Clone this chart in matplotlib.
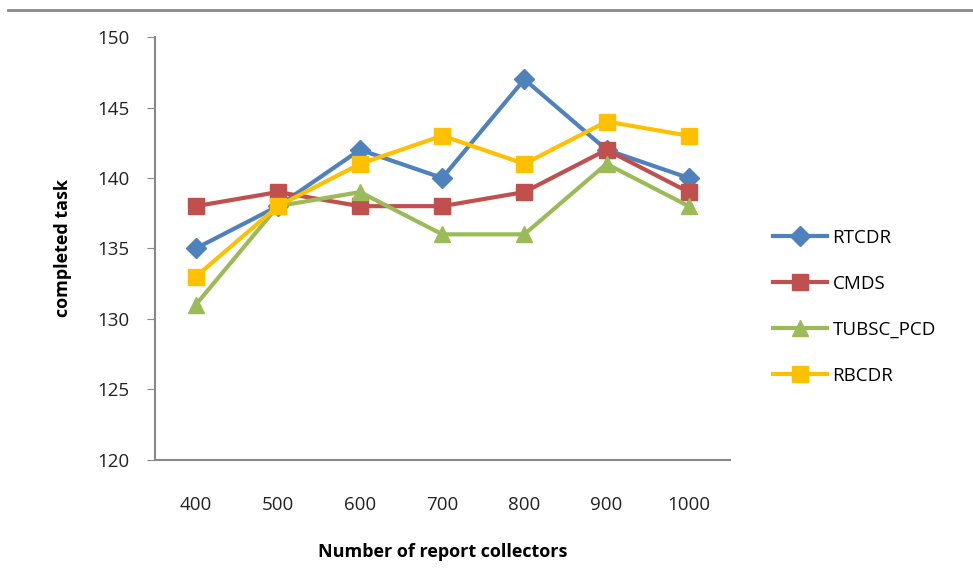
import matplotlib.pyplot as plt
from matplotlib.lines import Line2D

categories = ['400', '500', '600', '700', '800', '900', '1000']
rtcdr = [135, 138, 142, 140, 147, 142, 140]
cmds = [138, 139, 138, 138, 139, 142, 139]
tubsc_pcd = [131, 138, 139, 136, 136, 141, 138]
rbcdr = [133, 138, 141, 143, 141, 144, 143]

plt.rcParams['font.family'] = ['Open Sans', 'DejaVu Sans']

fig = plt.figure(figsize=(9.73, 5.88), dpi=100)
ax = fig.add_axes([0.159, 0.218, 0.591, 0.719])

x = range(len(categories))
ax.plot(x, rtcdr, color='#4F81BD', lw=3, marker='D', ms=10, label='RTCDR')
ax.plot(x, cmds, color='#C0504D', lw=3, marker='s', ms=11, label='CMDS')
ax.plot(x, tubsc_pcd, color='#9BBB59', lw=3, marker='^', ms=12, label='TUBSC_PCD')
ax.plot(x, rbcdr, color='#FFC000', lw=3, marker='s', ms=11, label='RBCDR')

ax.set_xlim(-0.5, 6.5)
ax.set_ylim(120, 150)
ax.set_yticks(range(120, 151, 5))
ax.set_xticks(list(x))
ax.set_xticklabels(categories)
ax.tick_params(axis='x', length=0, pad=26, labelsize=13.5, colors='#222222')
ax.tick_params(axis='y', length=6, color='#888888', pad=12, labelsize=13.5, labelcolor='#222222')
for s in ['top', 'right']:
    ax.spines[s].set_visible(False)
for s in ['left', 'bottom']:
    ax.spines[s].set_color('#888888')
    ax.spines[s].set_linewidth(1.5)

ax.set_xlabel('Number of report collectors', fontsize=13, fontweight='bold', labelpad=21)
ax.set_ylabel('completed task', fontsize=13, fontweight='bold', labelpad=18)

ax.legend(loc='center left', bbox_to_anchor=(1.045, 0.362), frameon=False,
          fontsize=13.5, labelspacing=1.5, handlelength=2.9, handletextpad=0.3)

fig.add_artist(Line2D([0.008, 1.0], [0.983, 0.983], color='#888888', lw=2))

plt.savefig('out.png')
